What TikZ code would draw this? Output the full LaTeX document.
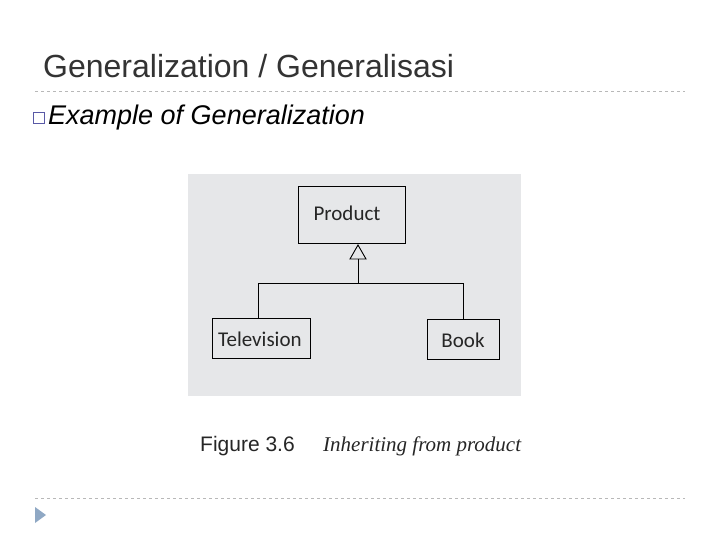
\documentclass[tikz,border=0pt]{standalone}
\usepackage{fontspec}
\setmainfont{Liberation Sans}
\newfontfamily\boxfont{Carlito}
\newfontfamily\seriffont{Liberation Serif}
\definecolor{panel}{HTML}{E6E7E9}
\definecolor{dashgray}{HTML}{B8B8B8}
\definecolor{tri}{HTML}{8FA8C4}
\begin{document}
\begin{tikzpicture}[x=1pt,y=-1pt,
  cls/.style={draw=black,line width=1pt,fill=panel,inner sep=0pt,anchor=north west},
  lbl/.style={font=\boxfont\fontsize{21}{21}\selectfont,text=black!85},
  conn/.style={line width=0.9pt}]
\useasboundingbox (0,0) rectangle (720,540);
\fill[white] (0,0) rectangle (720,540);
\node[anchor=base west,inner sep=0pt,font=\fontsize{32}{32}\selectfont,text=black!80] (title) at (43,78) {Generalization / Generalisasi};
\draw[dashgray,dashed,line width=0.8pt] (35,91) -- (685,91);
\node[draw=gray!70!blue,line width=1pt,minimum size=11pt,inner sep=0pt] (bul) at (39,118) {};
\node[anchor=base west,inner sep=0pt,font=\itshape\fontsize{27}{27}\selectfont] (ex) at (48,125) {Example of Generalization};
\fill[panel] (188,174) rectangle (521,396);
\node[cls,minimum width=107pt,minimum height=57pt] (prod) at (298,186) {};
\node[lbl] at (347,213) {Product};
\node[cls,minimum width=98pt,minimum height=40pt] (tv) at (212,318) {};
\node[lbl,anchor=west,inner sep=0pt] at (218,339) {Television};
\node[cls,minimum width=72pt,minimum height=40pt] (book) at (427,319) {};
\node[lbl] at (463,340) {Book};
\coordinate (j) at (358,283);
\draw[conn,fill=panel] (358,245) -- (350,259) -- (366,259) -- cycle;
\draw[conn] (358,259) -- (j);
\draw[conn] (tv.north -| 258,0) -- (258,283) -- (463,283) -- (book.north -| 463,0);
\node[anchor=base west,inner sep=0pt,font=\fontsize{21}{21}\selectfont,text=black!85] (fig) at (200,451) {Figure 3.6};
\node[anchor=base west,inner sep=0pt,font=\seriffont\itshape\fontsize{21}{21}\selectfont,text=black!85] (cap) at (323,451) {Inheriting from product};
\draw[dashgray,dashed,line width=0.8pt] (35,498) -- (685,498);
\fill[tri] (35,507) -- (46,515) -- (35,523) -- cycle;
\end{tikzpicture}
\end{document}
